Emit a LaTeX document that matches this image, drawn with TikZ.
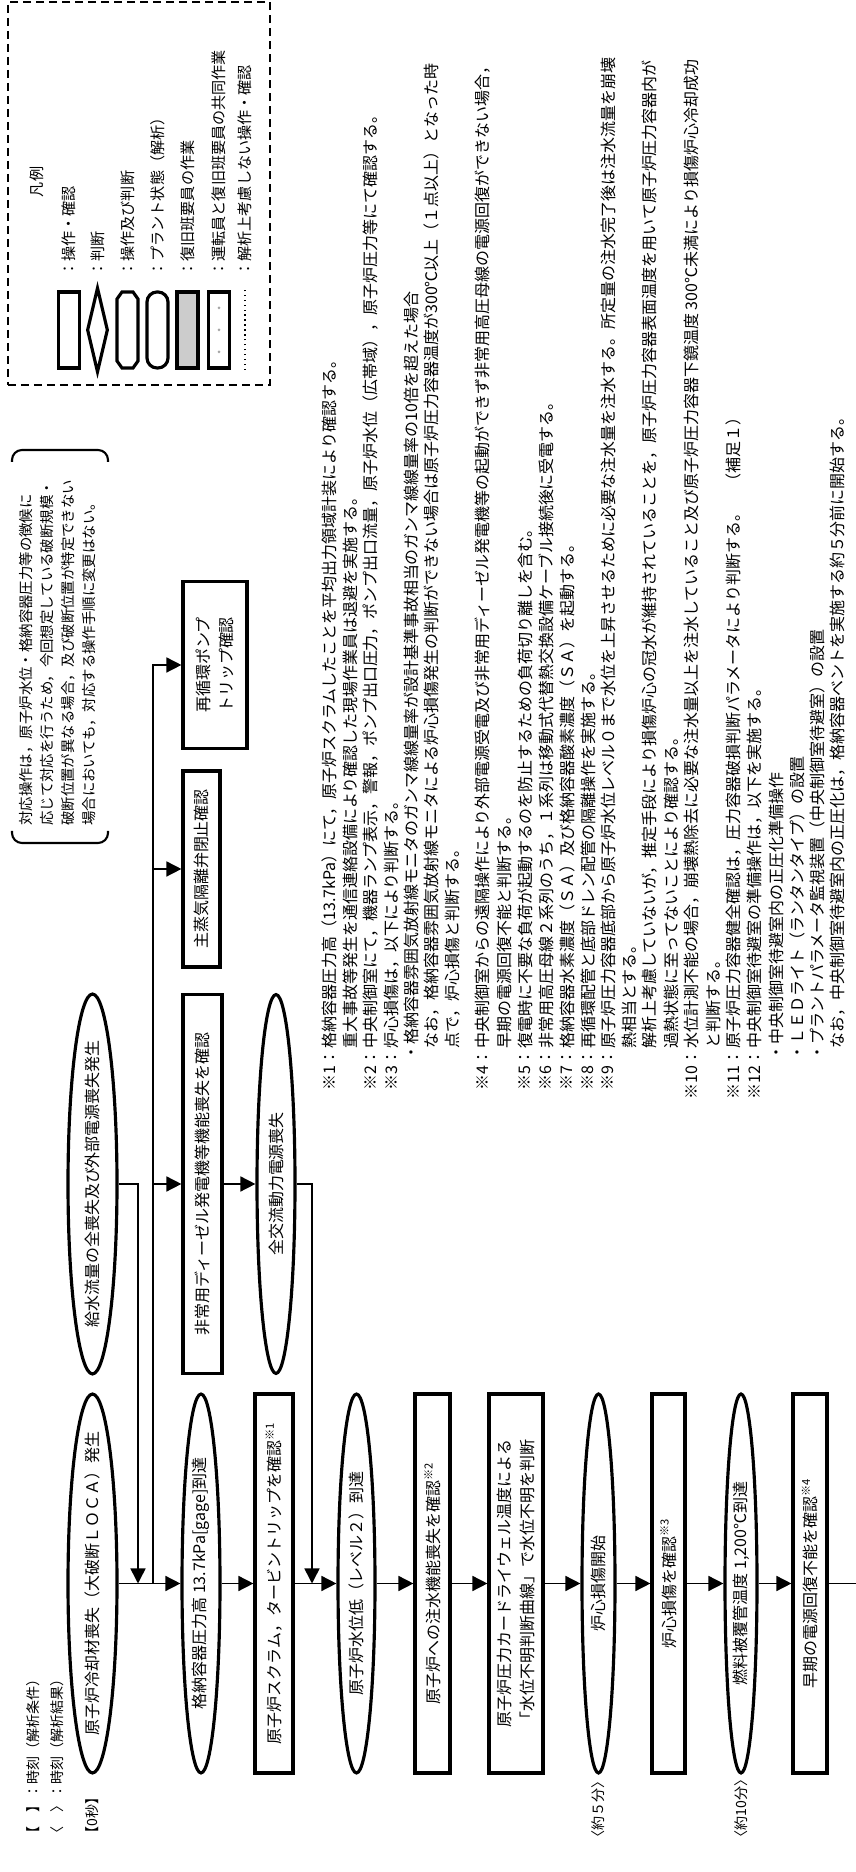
\documentclass[tikz,border=0pt]{standalone}
\usepackage{fontspec}
\setmainfont{Noto Sans CJK JP}
\usetikzlibrary{arrows.meta, shapes.geometric}
\newcommand{\flowfont}{\fontsize{9.1pt}{13pt}\selectfont}
\newcommand{\notefont}{\fontsize{9.1pt}{11pt}\selectfont}
\newcommand{\policyfont}{\fontsize{8.2pt}{11.9pt}\selectfont}
\newcommand{\legendfont}{\fontsize{8.6pt}{10pt}\selectfont}
\newcommand{\timefont}{\fontsize{8pt}{10pt}\selectfont}
\newcommand{\nowidth}[1]{\makebox[0pt]{#1}}
\tikzset{
    plant_state/.style={ellipse, draw=black, line width=1.8pt, minimum width=7.58cm, inner sep=0pt, font=\flowfont},
    op_node/.style={rectangle, draw=black, line width=1.8pt, minimum width=7.58cm, inner sep=0pt, text centered, align=center, font=\flowfont},
    arrow/.style={line width=0.9pt, -{Triangle[length=0.3cm, width=0.3cm]}},
    line/.style={line width=0.9pt},
    note_text/.style={anchor=west, inner sep=0pt, font=\notefont},
    note_mark/.style={anchor=east, inner sep=0pt, font=\notefont},
    time_text/.style={anchor=west, inner sep=0pt, font=\timefont},
    legend_text/.style={anchor=west, inner sep=0pt, font=\legendfont},
    legend_sym/.style={rectangle, draw=black, line width=1.8pt, minimum width=1.52cm, minimum height=0.42cm, inner sep=0pt},
    legend_frame/.style={draw=black, line width=1.2pt, dash pattern=on 0.16cm off 0.1cm},
    bracket_line/.style={line width=1.2pt, rounded corners=0.2cm},
}

\begin{document}
\begin{tikzpicture}[x=0.02cm, y=0.02cm]
  \useasboundingbox (0,0) rectangle (855,1872);
  \begin{scope}[rotate=90, transform shape]

      \node (t_cond) [time_text] at (31,-33) {【　】：時刻（解析条件）};
      \node (t_res) [time_text] at (31,-57) {〈　〉：時刻（解析結果）};
      \node (t_0) [time_text] at (31,-92.5) {【0秒】};
      \node (t_5) [time_text] at (27,-598.5) {〈約５分〉};
      \node (t_10) [time_text] at (27,-741) {〈約10分〉};

      \node (loca) [plant_state, minimum height=0.98cm] at (288.5,-92.5) {\nowidth{原子炉冷却材喪失（大破断ＬＯＣＡ）発生}};
      \node (kakuno) [plant_state, minimum height=0.76cm] at (288.5,-201) {\nowidth{格納容器圧力高 13.7kPa[gage]到達}};
      \node (scram) [op_node, minimum height=0.76cm] at (288.5,-274) {原子炉スクラム，タービントリップを確認\textsuperscript{※1}};
      \node (suiigen) [plant_state, minimum height=0.74cm] at (288.5,-356.5) {\nowidth{原子炉水位低（レベル２）到達}};
      \node (chusui) [op_node, minimum height=0.70cm] at (288.5,-432.5) {原子炉への注水機能喪失を確認\textsuperscript{※2}};
      \node (fumei) [op_node, minimum height=1.08cm] at (288.5,-516) {原子炉圧力カードライウェル温度による\\「水位不明判断曲線」で水位不明を判断};
      \node (kaishi) [plant_state, minimum height=0.66cm] at (288.5,-598.5) {\nowidth{炉心損傷開始}};
      \node (kakunin) [op_node, minimum height=0.66cm] at (288.5,-668.5) {炉心損傷を確認\textsuperscript{※3}};
      \node (nenryo) [plant_state, minimum height=0.64cm] at (288.5,-741) {\nowidth{燃料被覆管温度 1,200℃到達}};
      \node (soki) [op_node, minimum height=0.68cm] at (288.5,-810) {早期の電源回復不能を確認\textsuperscript{※4}};
      \coordinate (flow_end) at (288.5,-857);

      \node (kyusui) [plant_state, minimum width=7.6cm, minimum height=0.98cm] at (688,-92.5) {\nowidth{給水流量の全喪失及び外部電源喪失発生}};
      \node (dg_loss) [op_node, minimum height=0.78cm] at (688,-202.5) {非常用ディーゼル発電機等機能喪失を確認};
      \node (sbo) [plant_state, minimum height=0.76cm] at (688,-276) {\nowidth{全交流動力電源喪失}};
      \node (msiv) [op_node, minimum width=3.92cm, minimum height=0.74cm] at (1003,-201.5) {主蒸気隔離弁閉止確認};
      \node (rip) [op_node, minimum width=3.34cm, minimum height=1.28cm] at (1207,-215) {再循環ポンプ\\トリップ確認};

      \coordinate (fw_turn) at (688,-138);
      \coordinate (fw_merge) at (288.5,-138);
      \coordinate (branch) at (288.5,-153);
      \coordinate (branch_dg) at (688,-153);
      \coordinate (branch_msiv) at (1003,-153);
      \coordinate (branch_rip) at (1207,-153);
      \coordinate (sbo_turn) at (688,-312);
      \coordinate (sbo_merge) at (288.5,-312);

      \draw [arrow] (loca) -- (kakuno);
      \draw [arrow] (kakuno) -- (scram);
      \draw [arrow] (scram) -- (suiigen);
      \draw [arrow] (suiigen) -- (chusui);
      \draw [arrow] (chusui) -- (fumei);
      \draw [arrow] (fumei) -- (kaishi);
      \draw [arrow] (kaishi) -- (kakunin);
      \draw [arrow] (kakunin) -- (nenryo);
      \draw [arrow] (nenryo) -- (soki);
      \draw [line] (soki) -- (flow_end);

      \draw [arrow] (kyusui) -- (fw_turn) -- (fw_merge);
      \draw [arrow] (branch) -- (branch_rip) -- (rip);
      \draw [arrow] (branch_dg) -- (dg_loss);
      \draw [arrow] (branch_msiv) -- (msiv);
      \draw [arrow] (dg_loss) -- (sbo);
      \draw [arrow] (sbo) -- (sbo_turn) -- (sbo_merge);

      \node (policy) [anchor=west, inner sep=0pt, align=left, font=\policyfont] at (1046,-57.5) {対応操作は，原子炉水位・格納容器圧力等の徴候に\\応じて対応を行うため，今回想定している破断規模・\\破断位置が異なる場合，及び破断位置が特定できない\\場合においても，対応する操作手順に変更はない。};
      \draw [bracket_line] (1041,-12) -- (1029,-12) -- (1029,-108) -- (1041,-108);
      \draw [bracket_line] (1410,-12) -- (1422,-12) -- (1422,-108) -- (1410,-108);

      \draw [legend_frame] (1487,-8) rectangle (1870,-270);
      \node (lg_title) [inner sep=0pt, font=\legendfont] at (1690,-37) {凡例};
      \node (lg_op) [legend_sym] at (1542,-69) {};
      \node (lg_judge) [diamond, draw=black, line width=1.8pt, minimum width=1.7cm, minimum height=0.42cm, inner sep=0pt] at (1542,-97.5) {};
      \draw [line width=1.8pt] (1504,-122) -- (1511,-117) -- (1573,-117) -- (1580,-122) -- (1580,-133) -- (1573,-138) -- (1511,-138) -- (1504,-133) -- cycle;
      \node (lg_plant) [legend_sym, rounded corners=0.2cm] at (1542,-157.5) {};
      \node (lg_rescue) [legend_sym, fill=black!20] at (1542,-187.5) {};
      \node (lg_joint) [legend_sym] at (1542,-219) {};
      \foreach \dx in {1520,1542,1564} \fill [black!35] (\dx,-219) circle (1.5);
      \draw [dotted, line width=0.8pt] (1502,-245) -- (1582,-245);
      \node (lt_op) [legend_text] at (1595,-69) {：操作・確認};
      \node (lt_judge) [legend_text] at (1595,-97.5) {：判断};
      \node (lt_both) [legend_text] at (1595,-127.5) {：操作及び判断};
      \node (lt_plant) [legend_text] at (1595,-157.5) {：プラント状態（解析）};
      \node (lt_rescue) [legend_text] at (1595,-187.5) {：復旧班要員の作業};
      \node (lt_joint) [legend_text] at (1595,-219) {：運転員と復旧班要員の共同作業};
      \node (lt_none) [legend_text] at (1595,-245) {：解析上考慮しない操作・確認};

      \node (n1_mark) [note_mark] at (823,-330) {※1：};
      \node (n1_a) [note_text] at (823,-330) {格納容器圧力高（13.7kPa）にて，原子炉スクラムしたことを平均出力領域計装により確認する。};
      \node (n1_b) [note_text] at (823,-350.4) {重大事故等発生を通信連絡設備により確認した現場作業員は退避を実施する。};
      \node (n2_mark) [note_mark] at (823,-370.8) {※2：};
      \node (n2_a) [note_text] at (823,-370.8) {中央制御室にて，機器ランプ表示，警報，ポンプ出口圧力，ポンプ出口流量，原子炉水位（広帯域），原子炉圧力等にて確認する。};
      \node (n3_mark) [note_mark] at (823,-391.2) {※3：};
      \node (n3_a) [note_text] at (823,-391.2) {炉心損傷は，以下により判断する。};
      \node (n3_b) [note_text] at (811,-411.6) {・格納容器雰囲気放射線モニタのガンマ線線量率が設計基準事故相当のガンマ線線量率の10倍を超えた場合};
      \node (n3_c) [note_text] at (823,-432) {なお，格納容器雰囲気放射線モニタによる炉心損傷発生の判断ができない場合は原子炉圧力容器温度が300℃以上（１点以上）となった時};
      \node (n3_d) [note_text] at (823,-452.4) {点で，炉心損傷と判断する。};
      \node (n4_mark) [note_mark] at (823,-483) {※4：};
      \node (n4_a) [note_text] at (823,-483) {中央制御室からの遠隔操作により外部電源受電及び非常用ディーゼル発電機等の起動ができず非常用高圧母線の電源回復ができない場合，};
      \node (n4_b) [note_text] at (823,-504) {早期の電源回復不能と判断する。};
      \node (n5_mark) [note_mark] at (823,-525) {※5：};
      \node (n5_a) [note_text] at (823,-525) {復電時に不要な負荷が起動するのを防止するための負荷切り離しを含む。};
      \node (n6_mark) [note_mark] at (823,-546) {※6：};
      \node (n6_a) [note_text] at (823,-546) {非常用高圧母線２系列のうち，１系列は移動式代替熱交換設備ケーブル接続後に受電する。};
      \node (n7_mark) [note_mark] at (823,-567) {※7：};
      \node (n7_a) [note_text] at (823,-567) {格納容器水素濃度（ＳＡ）及び格納容器酸素濃度（ＳＡ）を起動する。};
      \node (n8_mark) [note_mark] at (823,-588) {※8：};
      \node (n8_a) [note_text] at (823,-588) {再循環配管と底部ドレン配管の隔離操作を実施する。};
      \node (n9_mark) [note_mark] at (823,-608) {※9：};
      \node (n9_a) [note_text] at (823,-608) {原子炉圧力容器底部から原子炉水位レベル０まで水位を上昇させるために必要な注水量を注水する。所定量の注水完了後は注水流量を崩壊};
      \node (n9_b) [note_text] at (823,-629) {熱相当とする。};
      \node (n9_c) [note_text] at (823,-650) {解析上考慮していないが，推定手段により損傷炉心の冠水が維持されていることを，原子炉圧力容器表面温度を用いて原子炉圧力容器内が};
      \node (n9_d) [note_text] at (823,-671) {過熱状態に至ってないことにより確認する。};
      \node (n10_mark) [note_mark] at (823,-692) {※10：};
      \node (n10_a) [note_text] at (823,-692) {水位計測不能の場合，崩壊熱除去に必要な注水量以上を注水していること及び原子炉圧力容器下鏡温度 300℃未満により損傷炉心冷却成功};
      \node (n10_b) [note_text] at (823,-713) {と判断する。};
      \node (n11_mark) [note_mark] at (823,-734) {※11：};
      \node (n11_a) [note_text] at (823,-734) {原子炉圧力容器健全確認は，圧力容器破損判断パラメータにより判断する。　（補足１）};
      \node (n12_mark) [note_mark] at (823,-755) {※12：};
      \node (n12_a) [note_text] at (823,-755) {中央制御室待避室の準備操作は，以下を実施する。};
      \node (n12_b) [note_text] at (811,-776) {・中央制御室待避室内の正圧化準備操作};
      \node (n12_c) [note_text] at (811,-797) {・ＬＥＤライト（ランタンタイプ）の設置};
      \node (n12_d) [note_text] at (811,-817) {・プラントパラメータ監視装置（中央制御室待避室）の設置};
      \node (n12_e) [note_text] at (823,-838) {なお，中央制御室待避室内の正圧化は，格納容器ベントを実施する約５分前に開始する。};

  \end{scope}
\end{tikzpicture}
\end{document}
